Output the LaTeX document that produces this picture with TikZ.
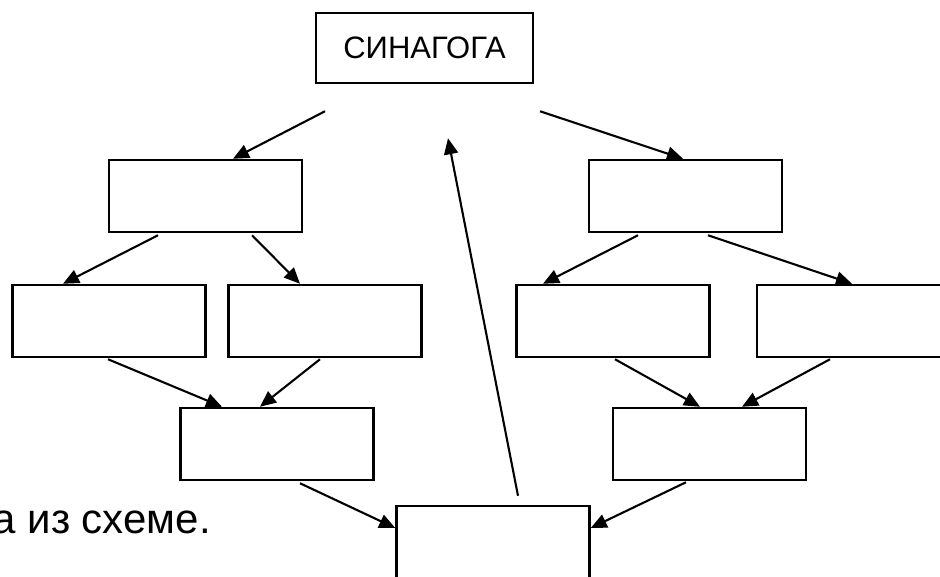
\documentclass[tikz,border=0pt]{standalone}
\usepackage{fontspec}
\setmainfont{Liberation Sans}
\usetikzlibrary{arrows.meta}

\tikzset{
  stage/.style={draw, line width=2.5pt, minimum width=193pt, minimum height=72pt, inner sep=0pt},
  link/.style={line width=2.1pt, -{Triangle[length=16pt,width=14pt]}}
}

\begin{document}
\begin{tikzpicture}[x=1pt, y=-1pt]

  \clip (0,0) rectangle (940,576);

  % Top box
  \node[stage, minimum width=217pt, minimum height=70pt, font=\fontsize{31}{37}\selectfont]
    (syn) at (424.5,48) {СИНАГОГА};

  % Empty boxes
  \foreach \name/\x/\y in {l1/205.5/196, r1/685.5/196,
                           l2a/109/321, l2b/325/321, r2a/613/321, r2b/853.5/321,
                           l3/277/444, r3/709.5/444, bot/493/542}
  {
    \node[stage] (\name) at (\x,\y) {};
  }

  % Text at the left
  \node[anchor=base east, inner sep=0pt, font=\fontsize{42}{50}\selectfont]
    (note) at (211,533) {а из схеме.};

  % Arrows down from the top box
  \draw[link] ([shift={(-99.5,27)}]syn.south) -- ([xshift=27.5pt]l1.north);
  \draw[link] ([shift={(115.5,27)}]syn.south) -- ([xshift=-2.5pt]r1.north);

  % Second row
  \draw[link] ([shift={(-47.5,2)}]l1.south) -- ([xshift=-46pt]l2a.north);
  \draw[link] ([shift={(46.5,2)}]l1.south) -- ([xshift=-25pt]l2b.north);
  \draw[link] ([shift={(-47.5,2)}]r1.south) -- ([xshift=-70pt]r2a.north);
  \draw[link] ([shift={(22.5,2)}]r1.south) -- ([xshift=-1.5pt]r2b.north);

  % Third row
  \draw[link] ([shift={(-1,1)}]l2a.south) -- ([xshift=-55pt]l3.north);
  \draw[link] ([shift={(-5,1)}]l2b.south) -- ([xshift=-17pt]l3.north);
  \draw[link] ([shift={(2,1)}]r2a.south) -- ([xshift=-9.5pt]r3.north);
  \draw[link] ([shift={(-23.5,1)}]r2b.south) -- ([xshift=32.5pt]r3.north);

  % Into the bottom box
  \draw[link] ([shift={(23,2)}]l3.south) -- ([shift={(0,-14)}]bot.west);
  \draw[link] ([shift={(-23.5,1)}]r3.south) -- ([shift={(0,-14)}]bot.east);

  % Back up
  \draw[link] ([shift={(25,-9)}]bot.north) -- ([shift={(23.5,54)}]syn.south);

\end{tikzpicture}
\end{document}
